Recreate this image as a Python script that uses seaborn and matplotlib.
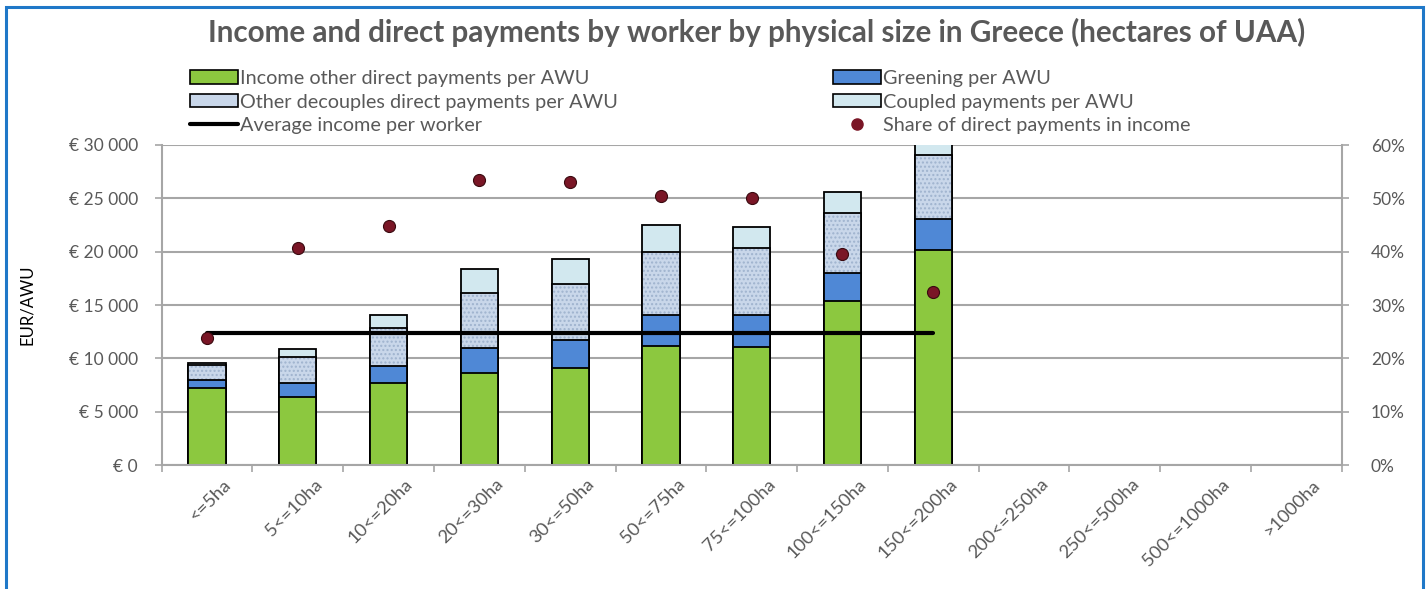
import matplotlib
matplotlib.use('Agg')
import matplotlib.pyplot as plt
import matplotlib.transforms as mtransforms
from matplotlib.patches import Patch, Rectangle
from matplotlib.lines import Line2D
from matplotlib.ticker import FuncFormatter
import numpy as np
import pandas as pd
import seaborn as sns

# Data (EUR per AWU, share in %)
sizes = ['<=5ha', '5<=10ha', '10<=20ha', '20<=30ha', '30<=50ha', '50<=75ha',
         '75<=100ha', '100<=150ha', '150<=200ha', '200<=250ha', '250<=500ha',
         '500<=1000ha', '>1000ha']
income_other = [7200, 6400, 7650, 8600, 9050, 11150, 11100, 15400, 20200]
greening = [800, 1250, 1650, 2350, 2650, 2900, 2950, 2600, 2850]
other_decoupled = [1400, 2500, 3500, 5150, 5250, 5950, 6250, 5600, 6000]
coupled = [150, 700, 1250, 2250, 2350, 2500, 2050, 2000, 1500]
avg_income = [12350, 12350, 12350, 12350, 12350, 12350, 12350, 12350, 12350]
share_dp = [23.8, 40.6, 44.8, 53.4, 53.0, 50.5, 50.1, 39.5, 32.4]

c_green = '#8CC83F'
c_greening = '#4F88D6'
c_other = '#C9D7EA'
c_coupled = '#D2E8EF'
c_dot = '#7A1626'
txt_gray = '#595959'

# stack the layers (categories without data stay empty)
pad = [np.nan] * (len(sizes) - len(income_other))
lay1 = np.array(income_other + pad, dtype=float)
lay2 = lay1 + np.array(greening + pad, dtype=float)
lay3 = lay2 + np.array(other_decoupled + pad, dtype=float)
lay4 = lay3 + np.array(coupled + pad, dtype=float)
df = pd.DataFrame({'size': sizes, 'l1': lay1, 'l2': lay2, 'l3': lay3, 'l4': lay4})

sns.set_style('white')
plt.rcParams['font.family'] = ['Lato', 'DejaVu Sans']
plt.rcParams['hatch.linewidth'] = 1.0

fig = plt.figure(figsize=(14.26, 5.89), dpi=100)
ax = fig.add_axes([161.7 / 1426, 1 - 465 / 589, 1180 / 1426, 320 / 589])

bw = 0.41
lw = 1.3
sns.barplot(data=df, x='size', y='l4', order=sizes, color=c_coupled, saturation=1,
            width=bw, edgecolor='black', linewidth=lw, errorbar=None, ax=ax)
sns.barplot(data=df, x='size', y='l3', order=sizes, color=c_other, saturation=1,
            width=bw, edgecolor='#9FB3CE', linewidth=0, hatch='....', errorbar=None, ax=ax)
sns.barplot(data=df, x='size', y='l3', order=sizes, color='black', fill=False,
            width=bw, linewidth=lw, errorbar=None, ax=ax)
sns.barplot(data=df, x='size', y='l2', order=sizes, color=c_greening, saturation=1,
            width=bw, edgecolor='black', linewidth=lw, errorbar=None, ax=ax)
sns.barplot(data=df, x='size', y='l1', order=sizes, color=c_green, saturation=1,
            width=bw, edgecolor='black', linewidth=lw, errorbar=None, ax=ax)

pos = np.arange(len(avg_income))
sns.lineplot(x=pos, y=avg_income, color='black', linewidth=3, ax=ax, zorder=5)

# share of direct payments on the right axis
ax2 = ax.twinx()
sns.scatterplot(x=pos, y=share_dp, color=c_dot, s=75, edgecolor='#3A0A10', linewidth=0.8,
                ax=ax2, zorder=6)

ax.set_ylim(0, 30000)
ax.set_xlim(-0.5, len(sizes) - 0.5)
ax.set_yticks(np.arange(0, 30001, 5000))
ax.yaxis.set_major_formatter(FuncFormatter(lambda v, p: '€ {:,}'.format(int(v)).replace(',', ' ')))
ax.set_axisbelow(True)
ax.grid(axis='y', color='#A6A6A6', linewidth=1.5)
ax.grid(axis='x', visible=False)
for s in ['left', 'bottom', 'right']:
    ax.spines[s].set_color('#A6A6A6')
    ax.spines[s].set_linewidth(1.5)
ax.spines['top'].set_visible(False)

ax.set_xticks(np.arange(len(sizes)))
ax.set_xticklabels(sizes, rotation=45, ha='right', rotation_mode='anchor')
ax.set_xticks(np.arange(-0.5, len(sizes), 1), minor=True)
ax.tick_params(axis='x', which='major', length=0, pad=8, labelsize=13.2, labelcolor=txt_gray)
ax.tick_params(axis='x', which='minor', length=5, color='#A6A6A6', width=1.2, bottom=True)
ax.tick_params(axis='y', length=5, color='#A6A6A6', width=1.2, left=True, pad=12,
               labelsize=12.5, labelcolor=txt_gray)
shift = mtransforms.ScaledTranslation(16 / 100, 0, fig.dpi_scale_trans)
for t in ax.get_xticklabels():
    t.set_transform(t.get_transform() + shift)
ax.set_xlabel('')
ax.set_ylabel('EUR/AWU', fontsize=12, color='black')
ax.yaxis.set_label_coords(-0.107, 0.5)

ax2.set_ylim(0, 60)
ax2.set_xlim(-0.5, len(sizes) - 0.5)
ax2.set_yticks(np.arange(0, 61, 10))
ax2.yaxis.set_major_formatter(FuncFormatter(lambda v, p: '{:d}%'.format(int(v))))
ax2.grid(False)
for s in ax2.spines.values():
    s.set_visible(False)
ax2.yaxis.set_tick_params(length=5, color='#A6A6A6', width=1.2, right=True, pad=16,
                          labelsize=12.5, labelcolor=txt_gray)

fig.text(757 / 1426, 1 - 32 / 589,
         'Income and direct payments by worker by physical size in Greece (hectares of UAA)',
         ha='center', va='center', fontsize=21.3, fontweight='bold', color=txt_gray)

# legend in two columns
h_left = [Patch(facecolor=c_green, edgecolor='black', linewidth=1.2),
          Patch(facecolor=c_other, edgecolor='black', linewidth=1.2),
          Line2D([], [], color='black', linewidth=3)]
l_left = ['Income other direct payments per AWU', 'Other decouples direct payments per AWU',
          'Average income per worker']
h_right = [Patch(facecolor=c_greening, edgecolor='black', linewidth=1.2),
           Patch(facecolor=c_coupled, edgecolor='black', linewidth=1.2),
           Line2D([], [], linestyle='none', marker='o', markersize=8, color=c_dot)]
l_right = ['Greening per AWU', 'Coupled payments per AWU', 'Share of direct payments in income']
for hs, ls, x0 in [(h_left, l_left, 190), (h_right, l_right, 833)]:
    leg = fig.legend(hs, ls, loc='upper left', bbox_to_anchor=(x0 / 1426, 1 - 70 / 589),
                     frameon=False, fontsize=14.3, borderpad=0, borderaxespad=0,
                     handlelength=2.4, handleheight=0.65, handletextpad=0.1, labelspacing=0.33)
    for t in leg.get_texts():
        t.set_color(txt_gray)

# blue frame around the figure
fig.patches.append(Rectangle((6 / 1426, -0.05), 1417 / 1426, 1 - 7 / 589 + 0.05,
                             transform=fig.transFigure, fill=False,
                             edgecolor='#1F78C8', linewidth=2.2))

fig.savefig('out.png', dpi=100)
